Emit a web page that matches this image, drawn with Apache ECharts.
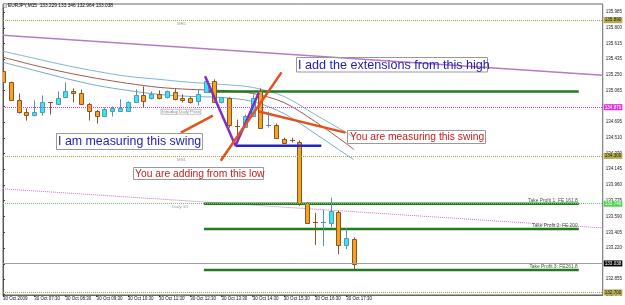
<!DOCTYPE html>
<html><head><meta charset="utf-8">
<script src="https://cdn.jsdelivr.net/npm/echarts@6/dist/echarts.min.js"></script>
<style>html,body{margin:0;padding:0;background:#fff}#c{width:625px;height:305px}</style>
</head><body><div id="c"></div>
<script>
// ---------------- DATA ----------------
const headerText = 'EURJPY,M15  133.229 133.346 132.964 133.038';
// [open, high, low, close] per 15-minute bar, bar index = position
const candles = [
 [135.291,135.314,135.150,135.162],[135.162,135.170,134.945,134.950],[134.950,135.032,134.797,134.809],
 [134.809,134.856,134.714,134.785],[134.785,134.950,134.762,134.809],[134.809,135.009,134.773,134.926],
 [134.926,134.930,134.785,134.924],[134.914,135.056,134.910,134.973],[134.985,135.162,134.980,135.056],
 [135.056,135.091,134.926,135.032],[135.032,135.079,134.910,134.914],[134.914,134.920,134.714,134.832],
 [134.832,134.840,134.679,134.773],[134.773,134.867,134.762,134.844],[134.832,134.879,134.762,134.856],
 [134.832,134.962,134.820,134.856],[134.832,134.940,134.825,134.926],[134.926,135.079,134.920,135.009],
 [135.009,135.114,134.867,134.938],[134.973,135.056,134.962,135.020],[135.020,135.067,134.962,134.973],
 [134.985,135.067,134.973,135.056],[135.044,135.091,134.950,134.962],[134.973,135.020,134.926,134.950],
 [134.973,134.997,134.914,134.926],[134.938,135.079,134.890,135.020],[135.044,135.197,135.040,135.173],
 [135.173,135.197,134.920,134.926],[134.926,134.990,134.914,134.985],[134.973,134.985,134.632,134.667],
 [134.646,134.726,134.514,134.644],[134.644,134.785,134.640,134.773],[134.773,135.020,134.770,134.973],
 [135.056,135.091,134.620,134.632],[134.665,134.820,134.632,134.667],[134.667,134.680,134.500,134.514],
 [134.503,134.514,134.450,134.456],[134.481,134.514,134.456,134.479],[134.467,134.480,133.714,133.750],
 [133.750,133.760,133.500,133.514],[133.528,133.632,133.256,133.526],[133.524,133.667,133.244,133.526],
 [133.514,133.809,133.467,133.656],[133.644,133.660,133.150,133.256],[133.256,133.456,133.209,133.338],
 [133.330,133.346,132.964,133.038]
];
const timeLabelBars = [0,4,8,12,16,20,24,28,32,36,40,44];
const timeLabels = ['30 Oct 2009','30 Oct 07:30','30 Oct 08:30','30 Oct 09:30','30 Oct 10:30','30 Oct 11:30',
  '30 Oct 12:30','30 Oct 13:30','30 Oct 14:30','30 Oct 15:30','30 Oct 16:30','30 Oct 17:30'];
const priceTicks = [135.985,135.800,135.615,135.435,135.250,135.065,134.880,134.695,134.510,134.330,
  134.145,133.960,133.775,133.590,133.405,133.220,133.035,132.855,132.675];
const maUpper = [[0,135.526],[4,135.444],[8,135.362],[12,135.291],[16,135.232],[20,135.197],[24,135.162],
  [28,135.138],[32,135.103],[36,134.997],[40,134.785],[44,134.573],[45,134.514]];
const maMiddle = [[0,135.456],[4,135.362],[8,135.279],[12,135.209],[16,135.150],[20,135.103],[24,135.079],
  [28,135.067],[32,135.032],[36,134.926],[40,134.703],[44,134.444],[45,134.373]];
const maLower = [[0,135.397],[4,135.303],[8,135.209],[12,135.126],[16,135.067],[20,135.020],[24,134.997],
  [28,134.985],[32,134.938],[36,134.797],[40,134.562],[44,134.314],[45,134.256]];
const trendSolid = [[0,135.714],[76.87,135.244]];
const trendDotted = [[0,133.914],[76.87,133.456]];
const swingV = [[25.9,135.232],[29.8,134.420],[32.8,135.044]];
const pointerMeasure = [[22.8,134.573],[26.9,134.773]];
const extensionRay = [[27.9,134.244],[35.7,135.279]];
const pointerSwing = [[32.8,134.820],[43.9,134.573]];
const swingLowLine = [[29.8,134.420],[40.8,134.420]];
const highLevel = [[25.75,135.056],[73.8,135.056]];
const tp1 = [[25.75,133.740],[73.8,133.740]];
const tp2 = [[25.75,133.444],[73.8,133.444]];
const tp3 = [[25.75,132.962],[73.8,132.962]];
const tpNames = ['Take Profit 1: FE 161.8','Take Profit 2: FE 200','Take Profit 3: FE261.8'];
const levelNames = ['MR1','Intraday Daily Pivot','MS1','Daily S1','MS2'];
const levelValues = [135.890,134.870,134.300,133.740,132.700];
const bidPrice = 133.038;
const notes = ['I am measuring this swing','You are adding from this low','I add the extensions from this high','You are measuring this swing'];

// ---------------- CHART ----------------
const FONT = "'Liberation Sans', Arial, sans-serif";
const chart = echarts.init(document.getElementById('c'), null, {renderer:'canvas', width:625, height:305});

function renderCandle(params, api) {
  const i = api.value(0), o = api.value(1), h = api.value(2), l = api.value(3), c = api.value(4);
  const pO = api.coord([i, o]), pC = api.coord([i, c]);
  const yH = api.coord([i, h])[1], yL = api.coord([i, l])[1];
  const x = Math.round(pO[0]);
  const bull = c >= o;
  const wick = bull ? '#5c8fae' : '#8a5526';
  const top = Math.min(pO[1], pC[1]), bot = Math.max(pO[1], pC[1]);
  const ch = [{type:'line', shape:{x1:x+0.5,y1:yH,x2:x+0.5,y2:yL}, style:{stroke:wick,lineWidth:1}}];
  if (bot - top < 1.5) {
    const yy = Math.round(top) + 0.5;
    ch.push({type:'line', shape:{x1:x-2,y1:yy,x2:x+3,y2:yy}, style:{stroke:wick,lineWidth:1}});
  } else {
    ch.push({type:'rect', shape:{x:x-1.5,y:Math.round(top)+0.5,width:4,height:Math.round(bot)-Math.round(top)},
      style:{fill: bull ? '#3fe2f3' : '#f7a21c', stroke: bull ? '#4f9cb8' : '#8a5526', lineWidth:1}});
  }
  return {type:'group', children: ch};
}

function seg(data, color, width, z, type) {
  return {type:'line', data, symbol:'none', silent:true, z, animation:false,
    lineStyle:{color, width, type: type || 'solid'}};
}

const levelColors = [
  {line:'#a8a040', bg:'#b5ad4a', fg:'#222', type:'dotted'},
  {line:'#d040d0', bg:'#e030e0', fg:'#fff', type:'dotted'},
  {line:'#a8a040', bg:'#b5ad4a', fg:'#222', type:'dotted'},
  {line:'#70c070', bg:'#4ed24e', fg:'#fff', type:'dotted'},
  {line:'#a8a040', bg:'#b5ad4a', fg:'#222', type:'dotted'}
];
const markData = levelValues.map((v, k) => ({
  yAxis: v,
  lineStyle:{color: levelColors[k].line, type: levelColors[k].type, width:1},
  label:{show:true, position:'end', distance:1, formatter: v.toFixed(3), fontSize:4.6, fontFamily:FONT,
    color: levelColors[k].fg, backgroundColor: levelColors[k].bg, padding:[1,1,0,1]}
}));
markData.push({yAxis: bidPrice, lineStyle:{color:'#a0a0a0', type:'solid', width:1},
  label:{show:true, position:'end', distance:1, formatter: bidPrice.toFixed(3), fontSize:4.6, fontFamily:FONT,
    color:'#fff', backgroundColor:'#000', padding:[1,1,0,1]}});

const option = {
  animation:false,
  backgroundColor:'#fff',
  grid:{left:3, right:19, top:4, bottom:10, show:true, borderColor:'#666', borderWidth:1},
  xAxis:{type:'value', min:0, max:76.87, splitLine:{show:false},
    axisLine:{show:true, lineStyle:{color:'#666'}},
    axisTick:{show:true, customValues: timeLabelBars, length:2, lineStyle:{color:'#444'}},
    axisLabel:{customValues: timeLabelBars, formatter: v => timeLabels[timeLabelBars.indexOf(Math.round(v))] || '',
      align:'left', margin:1, fontSize:4.5, fontFamily:FONT, color:'#111'}},
  yAxis:{type:'value', position:'right', min:132.67, max:136.08, scale:true, splitLine:{show:false},
    axisLine:{show:true, lineStyle:{color:'#555'}},
    axisTick:{show:true, customValues: priceTicks, length:2, lineStyle:{color:'#444'}},
    axisLabel:{customValues: priceTicks, formatter: v => v.toFixed(3), margin:3, fontSize:4.5, fontFamily:FONT, color:'#222'}},
  series:[
    seg(trendSolid, '#bb78c6', 1.5, 1),
    seg(trendDotted, '#c870c8', 1, 1, 'dotted'),
    {type:'line', data:[], symbol:'none', silent:true, z:1, markLine:{symbol:'none', silent:true, animation:false, data: markData}},
    Object.assign(seg(maUpper, '#82b6d2', 1, 2), {smooth:0.3}),
    Object.assign(seg(maMiddle, '#a4574c', 1, 2), {smooth:0.3}),
    Object.assign(seg(maLower, '#73acc9', 1, 2), {smooth:0.3}),
    seg(highLevel, '#237a23', 2.5, 3),
    seg(tp1, '#237a23', 2.5, 3),
    seg(tp2, '#237a23', 2.5, 3),
    seg(tp3, '#237a23', 2.5, 3),
    {type:'custom', renderItem: renderCandle, z:4, clip:true, silent:true,
      encode:{x:0, y:[1,2,3,4]}, data: candles.map((d, i) => [i].concat(d))},
    seg(swingLowLine, '#2424c8', 2.5, 5),
    seg(swingV, '#7f30c2', 2.5, 6),
    seg(pointerMeasure, '#e2521e', 2.5, 6),
    seg(extensionRay, '#e2521e', 2.5, 6),
    seg(pointerSwing, '#e2521e', 2.5, 6)
  ]
};
chart.setOption(option);

// ---------- annotations (texts) ----------
const px = (x, y) => chart.convertToPixel({gridIndex:0}, [x, y]);
const g = [];
g.push({type:'text', x:8, y:5.5, z:10, style:{text: headerText, font:'4.8px ' + FONT, fill:'#000', textVerticalAlign:'middle'}});
g.push({type:'rect', x:3.5, y:3.5, shape:{width:3, height:4}, z:10, style:{fill:'#ddd', stroke:'#888', lineWidth:0.5}});
const nameX = [177, 161, 177, 172, 177];
levelNames.forEach((n, k) => {
  const y = px(0, levelValues[k])[1];
  if (k === 1) {
    g.push({type:'text', x:nameX[k], y:y + 4.5, z:10, style:{text:n, font:'4.4px ' + FONT, fill:'#888',
      textVerticalAlign:'middle', borderColor:'#999', borderWidth:0.6, padding:[1,1,0,1]}});
  } else {
    g.push({type:'text', x:nameX[k], y:y + 3.5, z:10, style:{text:n, font:'4.4px ' + FONT, fill:'#999', textVerticalAlign:'middle'}});
  }
});
[tp1, tp2, tp3].forEach((d, k) => {
  const p = px(d[1][0], d[1][1]);
  g.push({type:'text', x:p[0] - 1, y:p[1] - 3.5, z:10, style:{text: tpNames[k], font:'4.9px ' + FONT, fill:'#2f5f2f',
    textAlign:'right', textVerticalAlign:'middle'}});
});
const boxes = [
  {r:[56.5,133.5,146,16], t:[58,142], size:12.4, color:'#1e1eb4'},
  {r:[133.5,167.5,130,12], t:[135,173.8], size:10.3, color:'#c51c1c'},
  {r:[296.5,57.5,191,14.5], t:[298,65.2], size:12.6, color:'#1e1eb4'},
  {r:[347.5,130.5,138,13], t:[350,137.2], size:10.3, color:'#c51c1c'}
];
boxes.forEach((b, k) => {
  g.push({type:'rect', z:11, shape:{x:b.r[0], y:b.r[1], width:b.r[2], height:b.r[3]},
    style:{fill:'rgba(255,255,255,0)', stroke:'#999', lineWidth:1}});
  g.push({type:'text', z:12, x:b.t[0], y:b.t[1], style:{text: notes[k], font: b.size + 'px ' + FONT, fill: b.color,
    textVerticalAlign:'middle'}});
});
chart.setOption({graphic: g});
</script></body></html>
